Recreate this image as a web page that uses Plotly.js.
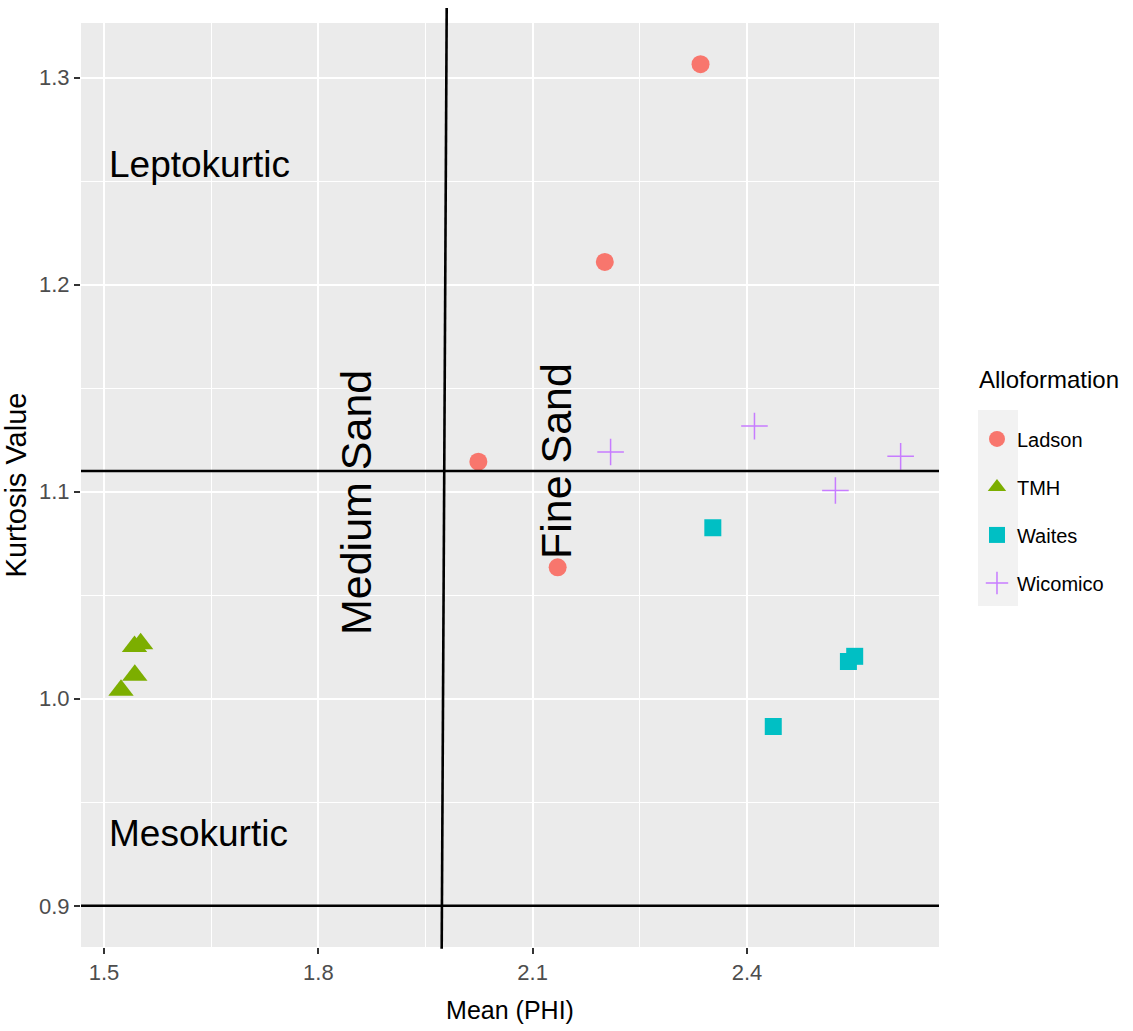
<!DOCTYPE html>
<html>
<head>
<meta charset="utf-8">
<script src="https://cdn.plot.ly/plotly-3.0.1.min.js"></script>
<style>html,body{margin:0;padding:0;background:#fff;}#chart{width:1133px;height:1031px;}</style>
</head>
<body>
<div id="chart"></div>
<script>
// Data
const ladsonMean = [2.335, 2.201, 2.024, 2.135];
const ladsonKurt = [1.3065, 1.211, 1.1145, 1.0635];

const tmhMean = [1.5427, 1.5513, 1.5431, 1.5238];
const tmhKurt = [1.0253, 1.0266, 1.0114, 1.0041];

const waitesMean = [2.3522, 2.542, 2.5508, 2.4368];
const waitesKurt = [1.0826, 1.018, 1.0205, 0.9866];

const wicomicoMean = [2.2091, 2.4105, 2.5238, 2.6151];
const wicomicoKurt = [1.1192, 1.1317, 1.1006, 1.1171];

const xTicks = [1.5, 1.8, 2.1, 2.4];
const xTickLabels = ["1.5", "1.8", "2.1", "2.4"];
const yTicks = [0.9, 1.0, 1.1, 1.2, 1.3];
const yTickLabels = ["0.9", "1.0", "1.1", "1.2", "1.3"];

const hLines = [1.11, 0.9];
const sandBoundary = [1.9797, 1.9727]; // top, bottom (slightly slanted in the picture)

const SANS = "Liberation Sans, Arial, sans-serif";

const traces = [
  {x: ladsonMean, y: ladsonKurt, name: "Ladson", legendgroup: "a", type: "scatter", mode: "markers",
   marker: {symbol: "circle", size: 18, color: "#F8766D"}},
  {x: tmhMean, y: tmhKurt, name: "TMH", legendgroup: "b", type: "scatter", mode: "markers",
   marker: {symbol: "triangle-up", size: 22, color: "#7CAE00"}},
  {x: waitesMean, y: waitesKurt, name: "Waites", legendgroup: "c", type: "scatter", mode: "markers",
   marker: {symbol: "square", size: 17, color: "#00BFC4"}},
  {x: wicomicoMean, y: wicomicoKurt, name: "Wicomico", legendgroup: "d", type: "scatter", mode: "markers",
   marker: {symbol: "cross-thin-open", size: 19, color: "#C77CFF", line: {color: "#C77CFF", width: 1.5}}}
];

const shapes = [
  // legend key background
  {type: "rect", xref: "paper", yref: "paper", x0: 1.0455, x1: 1.0921, y0: 0.369, y1: 0.5812,
   fillcolor: "#F2F2F2", line: {width: 0}, layer: "above"}
];
hLines.forEach(v => shapes.push({type: "line", xref: "paper", yref: "y", x0: 0, x1: 1, y0: v, y1: v,
  line: {color: "#000000", width: 2.6}}));
shapes.push({type: "line", xref: "x", yref: "paper", x0: sandBoundary[1], x1: sandBoundary[0], y0: -0.002, y1: 1.0162,
  line: {color: "#000000", width: 2.6}});

const annotations = [
  {x: 1.5042, y: 1.2579, xref: "x", yref: "y", text: "Leptokurtic", showarrow: false, xanchor: "left", yanchor: "middle",
   font: {family: SANS, size: 37, color: "#000000"}},
  {x: 1.5042, y: 0.935, xref: "x", yref: "y", text: "Mesokurtic", showarrow: false, xanchor: "left", yanchor: "middle",
   font: {family: SANS, size: 37, color: "#000000"}},
  {x: 1.8535, y: 1.0948, xref: "x", yref: "y", text: "Medium Sand", showarrow: false, textangle: -90,
   xanchor: "center", yanchor: "middle", font: {family: SANS, size: 43, color: "#000000"}},
  {x: 2.1321, y: 1.1146, xref: "x", yref: "y", text: "Fine Sand", showarrow: false, textangle: -90,
   xanchor: "center", yanchor: "middle", font: {family: SANS, size: 43, color: "#000000"}}
];

const layout = {
  width: 1133, height: 1031,
  margin: {l: 81, r: 194, t: 23, b: 84, pad: 0},
  paper_bgcolor: "#FFFFFF", plot_bgcolor: "#EBEBEB",
  showlegend: true,
  legend: {
    xref: "container", yref: "container",
    x: 0.8623, xanchor: "left", y: 0.6537, yanchor: "top",
    bgcolor: "rgba(0,0,0,0)", borderwidth: 0,
    tracegroupgap: 19,
    font: {family: SANS, size: 20, color: "#000000"},
    title: {text: "Alloformation<br>&nbsp;", font: {family: SANS, size: 24, color: "#000000"}}
  },
  xaxis: {
    range: [1.4678, 2.6688], tickmode: "array", tickvals: xTicks, ticktext: xTickLabels,
    showgrid: true, gridcolor: "#FFFFFF", gridwidth: 2.2, zeroline: false, showline: false,
    ticks: "outside", ticklen: 6, tickwidth: 1.6, tickcolor: "#333333",
    tickfont: {family: SANS, size: 22, color: "#4D4D4D"},
    minor: {tickmode: "array", tickvals: [1.65, 1.95, 2.25, 2.55], showgrid: true, gridcolor: "#FFFFFF", gridwidth: 1.1, ticks: ""},
    title: {text: "Mean (PHI)", font: {family: SANS, size: 25, color: "#000000"}, standoff: 17}
  },
  yaxis: {
    range: [0.8801, 1.3264], tickmode: "array", tickvals: yTicks, ticktext: yTickLabels,
    showgrid: true, gridcolor: "#FFFFFF", gridwidth: 2.2, zeroline: false, showline: false,
    ticks: "outside", ticklen: 6, tickwidth: 1.6, tickcolor: "#333333",
    tickfont: {family: SANS, size: 22, color: "#4D4D4D"},
    minor: {tickmode: "array", tickvals: [0.95, 1.05, 1.15, 1.25], showgrid: true, gridcolor: "#FFFFFF", gridwidth: 1.1, ticks: ""},
    title: {text: "Kurtosis Value", font: {family: SANS, size: 29, color: "#000000"}, standoff: 8}
  },
  shapes: shapes,
  annotations: annotations
};

Plotly.newPlot("chart", traces, layout, {displayModeBar: false, responsive: false});
</script>
</body>
</html>
